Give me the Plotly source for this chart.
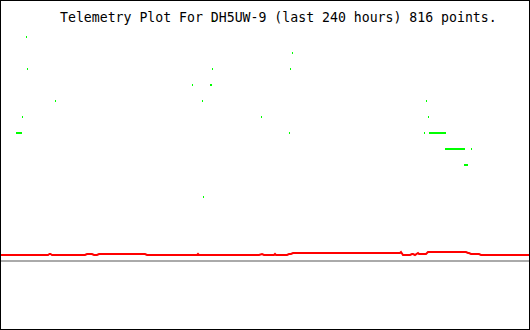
import plotly.graph_objects as go

# ---- data (hours since start of the 240 h window, telemetry levels) ----
title_text = "Telemetry Plot For DH5UW-9 (last 240 hours) 816 points."

# isolated green samples
green_pt_hour = [12.00, 12.45, 25.13, 10.19, 87.17, 96.23, 91.70, 118.42, 96.68,
                 92.15, 132.45, 131.55, 131.09, 193.13, 194.04, 192.23, 213.51]
green_pt_level = [14, 12, 10, 9, 11, 12, 10, 9, 15,
                  4, 13, 12, 8, 10, 9, 8, 7]

# runs of consecutive equal green samples
green_run_start = [7.25, 95.09, 194.26, 201.51, 210.11]
green_run_end = [9.96, 96.00, 201.96, 210.57, 211.92]
green_run_level = [8, 11, 8, 7, 6]

# red trace
red_hour = [0, 21.74, 22.42, 22.87, 23.55, 38.49, 39.40, 41.66, 42.57, 43.92,
            44.83, 65.66, 66.57, 89.21, 89.66, 90.11, 117.28, 118.19, 118.64,
            119.55, 124.08, 124.53, 124.98, 129.96, 130.87, 131.77, 132.68,
            181.13, 181.58, 182.49, 185.66, 186.57, 187.02, 187.92, 188.38,
            189.28, 189.74, 192.91, 193.81, 211.02, 211.92, 212.38, 213.28,
            216.91, 217.81, 240.0]
red_value = [0.375, 0.375, 0.4375, 0.4375, 0.375, 0.375, 0.4375, 0.4375, 0.375, 0.375,
             0.4375, 0.4375, 0.375, 0.375, 0.4375, 0.375, 0.375, 0.4375, 0.4375,
             0.375, 0.375, 0.4375, 0.375, 0.375, 0.4375, 0.4375, 0.5,
             0.5, 0.5625, 0.375, 0.375, 0.4375, 0.4375, 0.375, 0.4375,
             0.5, 0.4375, 0.4375, 0.5625, 0.5625, 0.5, 0.5, 0.4375,
             0.4375, 0.375, 0.375]

# gray baseline
gray_hour = [0, 240]
gray_value = [0, 0]

# ---- figure ----
fig = go.Figure()

fig.add_trace(go.Scatter(x=gray_hour, y=gray_value, mode="lines",
                         line=dict(color="#aaaaaa", width=2), hoverinfo="skip"))

fig.add_trace(go.Scatter(x=red_hour, y=red_value, mode="lines",
                         line=dict(color="#ff0000", width=2), hoverinfo="skip"))

run_x, run_y = [], []
for s, e, lv in zip(green_run_start, green_run_end, green_run_level):
    run_x += [s, e, None]
    run_y += [lv, lv, None]
fig.add_trace(go.Scatter(x=run_x, y=run_y, mode="lines",
                         line=dict(color="#00ff00", width=2), hoverinfo="skip"))

fig.add_trace(go.Scatter(x=green_pt_hour, y=green_pt_level, mode="markers",
                         marker=dict(symbol="line-ns", size=1.43, color="#00ff00",
                                     line=dict(color="#00ff00", width=1)),
                         hoverinfo="skip"))

fig.add_annotation(text=title_text, xref="paper", yref="paper",
                   x=58 / 530, y=1 - 17.5 / 330, xanchor="left", yanchor="middle",
                   showarrow=False,
                   font=dict(family="DejaVu Sans Mono", size=13.2, color="black"))

fig.add_shape(type="rect", xref="paper", yref="paper", x0=0, x1=1, y0=0, y1=1,
              line=dict(color="black", width=2))

fig.update_layout(width=530, height=330, margin=dict(l=0, r=0, t=0, b=0),
                  paper_bgcolor="white", plot_bgcolor="white", showlegend=False)
fig.update_xaxes(range=[0, 240], visible=False)
fig.update_yaxes(range=[-4.3125, 16.3125], visible=False)

fig.write_html("out.html", config={"displayModeBar": False},
               post_script="document.body.style.margin='0';document.body.style.overflow='hidden';")
